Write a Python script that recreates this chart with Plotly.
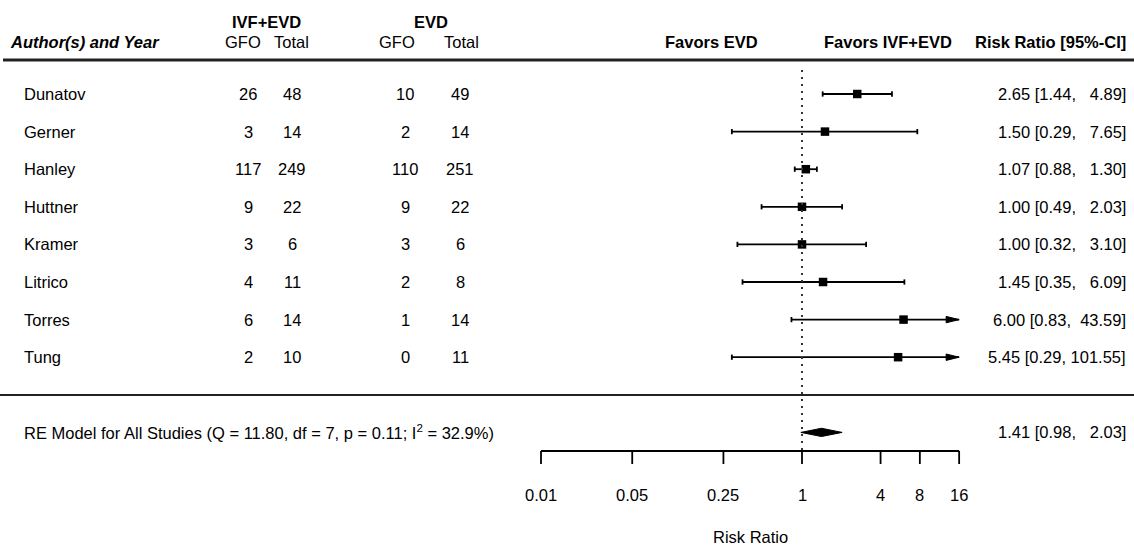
import plotly.graph_objects as go
import math

# ---------------- data ----------------
studies = ["Dunatov", "Gerner", "Hanley", "Huttner", "Kramer", "Litrico", "Torres", "Tung"]
ivf_gfo = [26, 3, 117, 9, 3, 4, 6, 2]
ivf_total = [48, 14, 249, 22, 6, 11, 14, 10]
evd_gfo = [10, 2, 110, 9, 3, 2, 1, 0]
evd_total = [49, 14, 251, 22, 6, 8, 14, 11]
rr = [2.65, 1.50, 1.07, 1.00, 1.00, 1.45, 6.00, 5.45]
ci_lo = [1.44, 0.29, 0.88, 0.49, 0.32, 0.35, 0.83, 0.29]
ci_hi = [4.89, 7.65, 1.30, 2.03, 3.10, 6.09, 43.59, 101.55]
re_est, re_lo, re_hi = 1.41, 0.98, 2.03
re_label = "RE Model for All Studies (Q = 11.80, df = 7, p = 0.11; I<sup>2</sup> = 32.9%)"
tick_vals = [0.01, 0.05, 0.25, 1, 4, 8, 16]
tick_text = ["0.01", "0.05", "0.25", "1", "4", "8", "16"]
x_label = "Risk Ratio"

# ---------------- geometry ----------------
W, H = 1134, 545
PX_AT_1 = 802.0        # pixel of RR = 1
PX_PER_DEC = 130.5     # pixels per decade
xr = [(0 - PX_AT_1) / PX_PER_DEC, (W - PX_AT_1) / PX_PER_DEC]
Y0, DY = 56.4, 37.6    # row k at pixel Y0 + DY*k
yr = [(H - Y0) / DY, (0 - Y0) / DY]
xmin, xmax = tick_vals[0], tick_vals[-1]

FONT = "Liberation Sans, Arial, sans-serif"
FS = 16.5
BLACK = "#000000"

def px(p):
    return p / W

def ky(p):
    return (p - Y0) / DY

fig = go.Figure()
rows = list(range(1, len(studies) + 1))
k_re = len(studies) + 2

# CI lines, caps
lx, ly = [], []
cx, cy = [], []
arrows = []
cap = 0.07
for i, k in enumerate(rows):
    hi = min(ci_hi[i], xmax)
    lx += [ci_lo[i], hi, None]
    ly += [k, k, None]
    cx += [ci_lo[i], ci_lo[i], None]
    cy += [k - cap, k + cap, None]
    if ci_hi[i] > xmax:
        arrows.append(k)
    else:
        cx += [ci_hi[i], ci_hi[i], None]
        cy += [k - cap, k + cap, None]
fig.add_trace(go.Scatter(x=lx, y=ly, mode="lines", line=dict(color=BLACK, width=1.8),
                         hoverinfo="skip", showlegend=False))
fig.add_trace(go.Scatter(x=cx, y=cy, mode="lines", line=dict(color=BLACK, width=1.8),
                         hoverinfo="skip", showlegend=False))
# arrow heads
base = xmax / 10 ** (13 / PX_PER_DEC)
for k in arrows:
    fig.add_trace(go.Scatter(x=[base, xmax, base, base], y=[k - 0.085, k, k + 0.085, k - 0.085],
                             mode="lines", fill="toself", fillcolor=BLACK,
                             line=dict(color=BLACK, width=1), hoverinfo="skip", showlegend=False))
# squares
fig.add_trace(go.Scatter(x=rr, y=rows, mode="markers",
                         marker=dict(symbol="square", size=8.5, color=BLACK, line=dict(width=0)),
                         hoverinfo="skip", showlegend=False))
# diamond
fig.add_trace(go.Scatter(x=[re_lo, re_est, re_hi, re_est, re_lo],
                         y=[k_re, k_re - 0.11, k_re, k_re + 0.11, k_re],
                         mode="lines", fill="toself", fillcolor=BLACK,
                         line=dict(color=BLACK, width=1), hoverinfo="skip", showlegend=False))
# reference dotted line
fig.add_trace(go.Scatter(x=[1, 1], y=[ky(70), ky(452)], mode="lines",
                         line=dict(color="#333333", width=2, dash="2px,5px"),
                         hoverinfo="skip", showlegend=False))
# axis line and ticks
ax_y = ky(451)
tk_y = ky(464)
axx = [xmin, xmax, None]
axy = [ax_y, ax_y, None]
for t in tick_vals:
    axx += [t, t, None]
    axy += [ax_y, tk_y, None]
fig.add_trace(go.Scatter(x=axx, y=axy, mode="lines", line=dict(color=BLACK, width=1.8),
                         hoverinfo="skip", showlegend=False))

# horizontal rules
fig.add_shape(type="line", xref="paper", yref="y", x0=px(3), x1=1, y0=ky(60), y1=ky(60),
              line=dict(color="#222222", width=3))
fig.add_shape(type="line", xref="paper", yref="y", x0=0, x1=1, y0=ky(395), y1=ky(395),
              line=dict(color="#222222", width=2))

ann = []

def txt(x, y, s, anchor="center", bold=False, italic=False, size=FS, xref="paper"):
    if bold:
        s = "<b>" + s + "</b>"
    if italic:
        s = "<i>" + s + "</i>"
    ann.append(dict(x=x, y=y, xref=xref, yref="y", text=s, showarrow=False,
                    xanchor=anchor, yanchor="middle",
                    font=dict(family=FONT, size=size, color=BLACK)))

# headers
txt(px(266), ky(22), "IVF+EVD", bold=True)
txt(px(431), ky(22), "EVD", bold=True)
txt(px(8), ky(42), "Author(s) and Year", anchor="left", bold=True, italic=True)
txt(px(243), ky(42), "GFO")
txt(px(291), ky(42), "Total")
txt(px(397), ky(42), "GFO")
txt(px(461), ky(42), "Total")
txt(px(760), ky(42), "Favors EVD", anchor="right", bold=True)
txt(px(822), ky(42), "Favors IVF+EVD", anchor="left", bold=True)
txt(px(1128), ky(42), "Risk Ratio [95%-CI]", anchor="right", bold=True)

def fmt(e, l, h):
    s = f"{e:.2f} [{l:.2f}, {h:>6.2f}]"
    return s.replace(" ", "\u00a0")

for i, k in enumerate(rows):
    txt(px(22), k, studies[i], anchor="left")
    txt(px(248), k, str(ivf_gfo[i]))
    txt(px(292), k, str(ivf_total[i]))
    txt(px(405), k, str(evd_gfo[i]))
    txt(px(460), k, str(evd_total[i]))
    txt(px(1128), k, fmt(rr[i], ci_lo[i], ci_hi[i]), anchor="right")

txt(px(22), k_re, re_label, anchor="left")
txt(px(1128), k_re, fmt(re_est, re_lo, re_hi), anchor="right")

# tick labels and axis title (annotation x on a log axis is given in log10 units)
for t, s in zip(tick_vals, tick_text):
    txt(math.log10(t), ky(495), s, xref="x")
txt((math.log10(xmin) + math.log10(xmax)) / 2, ky(537), x_label, xref="x")

fig.update_layout(
    width=W, height=H, autosize=False,
    margin=dict(l=0, r=0, t=0, b=0),
    paper_bgcolor="white", plot_bgcolor="white",
    xaxis=dict(type="log", range=xr, visible=False, fixedrange=True),
    yaxis=dict(range=yr, visible=False, fixedrange=True),
    annotations=ann,
    showlegend=False,
)
fig.write_html("out.html", config={"displayModeBar": False},
               post_script="document.body.style.margin='0';")
